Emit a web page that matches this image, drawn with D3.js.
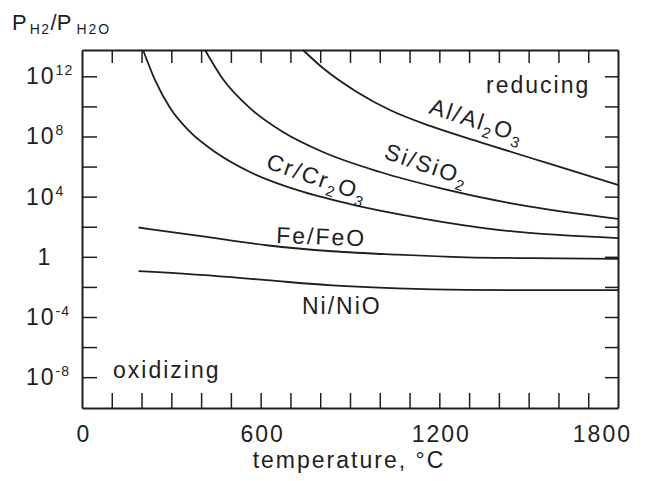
<html>
<script src="https://d3js.org/d3.v7.min.js"></script>
<body style="margin:0;background:#fff">
<svg width="648" height="481"></svg>
<script>
// equilibrium lines, temperature (°C) vs log10(P_H2/P_H2O)
const alTemp = [742, 809, 923, 1034, 1169, 1336, 1561, 1800];
const alLog  = [13.75, 12.55, 10.96, 9.76, 8.7, 7.63, 6.24, 4.78];
const siTemp = [413, 473, 564, 675, 809, 1001, 1202, 1471, 1800];
const siLog  = [13.75, 11.82, 9.89, 8.3, 6.97, 5.64, 4.57, 3.45, 2.52];
const crTemp = [205, 245, 296, 363, 447, 564, 732, 900, 1135, 1404, 1800];
const crLog  = [13.75, 11.76, 9.89, 8.3, 6.97, 5.64, 4.38, 3.51, 2.58, 1.78, 1.25];
const feTemp = [190, 400, 620, 840, 1060, 1290, 1510, 1800];
const feLog  = [1.95, 1.37, 0.77, 0.37, 0.14, -0.03, -0.09, -0.13];
const niTemp = [190, 400, 620, 840, 1060, 1290, 1510, 1800];
const niLog  = [-0.95, -1.2, -1.55, -1.9, -2.1, -2.2, -2.22, -2.22];

const xTickLabels = [0, 600, 1200, 1800];
const yTickExps = [12, 8, 4, 0, -4, -8];

const ink = "#1e1e1e";
const font = "'Liberation Sans', Arial, Helvetica, sans-serif";
const svg = d3.select("svg");

const x = d3.scaleLinear().domain([0, 1800]).range([82, 618]);
const y = d3.scaleLinear().domain([-10.05, 13.75]).range([408, 50]);

// frame with inward ticks on all four sides
const minorX = d3.range(100, 1800, 100);
const minorY = d3.range(-8, 13, 2);
function frame(g) {
    g.selectAll(".domain").attr("stroke", ink).attr("stroke-width", 2);
    g.selectAll(".tick line").attr("stroke", ink).attr("stroke-width", 1.5);
}
svg.append("g").attr("transform", "translate(0,408)")
    .call(d3.axisBottom(x).tickValues(minorX).tickSizeInner(-15).tickSizeOuter(0).tickFormat(""))
    .call(frame);
svg.append("g").attr("transform", "translate(0,50)")
    .call(d3.axisTop(x).tickValues(minorX).tickSizeInner(-13).tickSizeOuter(0).tickFormat(""))
    .call(frame);
svg.append("g").attr("transform", "translate(82,0)")
    .call(d3.axisLeft(y).tickValues(minorY).tickSizeInner(-15).tickSizeOuter(0).tickFormat(""))
    .call(frame);
svg.append("g").attr("transform", "translate(618,0)")
    .call(d3.axisRight(y).tickValues(minorY).tickSizeInner(-13).tickSizeOuter(0).tickFormat(""))
    .call(frame);

// x tick labels
svg.append("g").selectAll("text").data(xTickLabels).enter().append("text")
    .attr("x", function(d) { return d == 1800 ? x(d) + 14 : x(d) + 2; })
    .attr("y", 442)
    .attr("text-anchor", function(d) { return d == 1800 ? "end" : "middle"; })
    .style("font-family", font).style("font-size", "23px").style("letter-spacing", "2px")
    .attr("fill", ink)
    .text(function(d) { return d; });

// y tick labels, powers of ten
const yl = svg.append("g").selectAll("text").data(yTickExps).enter().append("text")
    .attr("x", function(d) { return d == 0 ? 45 : 26; })
    .attr("y", function(d) { return y(d) + 8; })
    .attr("text-anchor", function(d) { return d == 0 ? "middle" : "start"; })
    .style("font-family", font).style("font-size", "23px").style("letter-spacing", "2px")
    .attr("fill", ink);
yl.append("tspan").text(function(d) { return d == 0 ? "1" : "10"; });
yl.filter(function(d) { return d != 0; }).append("tspan")
    .attr("dy", -9).style("font-size", "14px").style("letter-spacing", "1px")
    .text(function(d) { return d; });

// curves
const line = d3.line()
    .x(function(d) { return x(d[0]); })
    .y(function(d) { return y(d[1]); })
    .curve(d3.curveMonotoneX);
const curves = [[alTemp, alLog], [siTemp, siLog], [crTemp, crLog], [feTemp, feLog], [niTemp, niLog]];
svg.append("g").selectAll("path").data(curves).enter().append("path")
    .attr("d", function(c) { return line(d3.zip(c[0], c[1])); })
    .attr("fill", "none").attr("stroke", ink).attr("stroke-width", 1.8);

// curve labels, parts: [text, isSubscript]
function label(px, py, angle, parts) {
    const t = svg.append("text")
        .attr("transform", "translate(" + px + "," + py + ") rotate(" + angle + ")")
        .style("font-family", font).style("font-size", "23px").style("letter-spacing", "2px")
        .attr("fill", ink);
    let sub = false;
    parts.forEach(function(p) {
        const s = t.append("tspan").text(p[0]);
        if (p[1] && !sub) { s.attr("dy", 6).style("font-size", "15px"); sub = true; }
        else if (p[1]) { s.style("font-size", "15px"); }
        else if (sub) { s.attr("dy", -6); sub = false; }
    });
}
label(428, 113, 18, [["Al/Al"], ["2", 1], ["O"], ["3", 1]]);
label(383, 158, 19, [["Si/SiO"], ["2", 1]]);
label(265, 168, 19, [["Cr/Cr"], ["2", 1], ["O"], ["3", 1]]);
label(276, 243, 2, [["Fe/FeO"]]);
label(302, 314, 0, [["Ni/NiO"]]);
label(486, 93, 0, [["reducing"]]);
label(113, 378, 0, [["oxidizing"]]);

// axis titles
svg.append("text").attr("x", 349).attr("y", 468).attr("text-anchor", "middle")
    .style("font-family", font).style("font-size", "23px").style("letter-spacing", "2px")
    .attr("fill", ink).text("temperature, °C");

const yt = svg.append("text").attr("x", 12).attr("y", 30)
    .style("font-family", font).style("font-size", "22px").attr("fill", ink);
yt.append("tspan").text("P");
yt.append("tspan").attr("dx", 3).attr("dy", 4).style("font-size", "14px").style("letter-spacing", "1.5px").text("H2");
yt.append("tspan").attr("dy", -4).text("/P");
yt.append("tspan").attr("dx", 5).attr("dy", 4).style("font-size", "14px").style("letter-spacing", "2px").text("H2O");
</script>
</body>
</html>
